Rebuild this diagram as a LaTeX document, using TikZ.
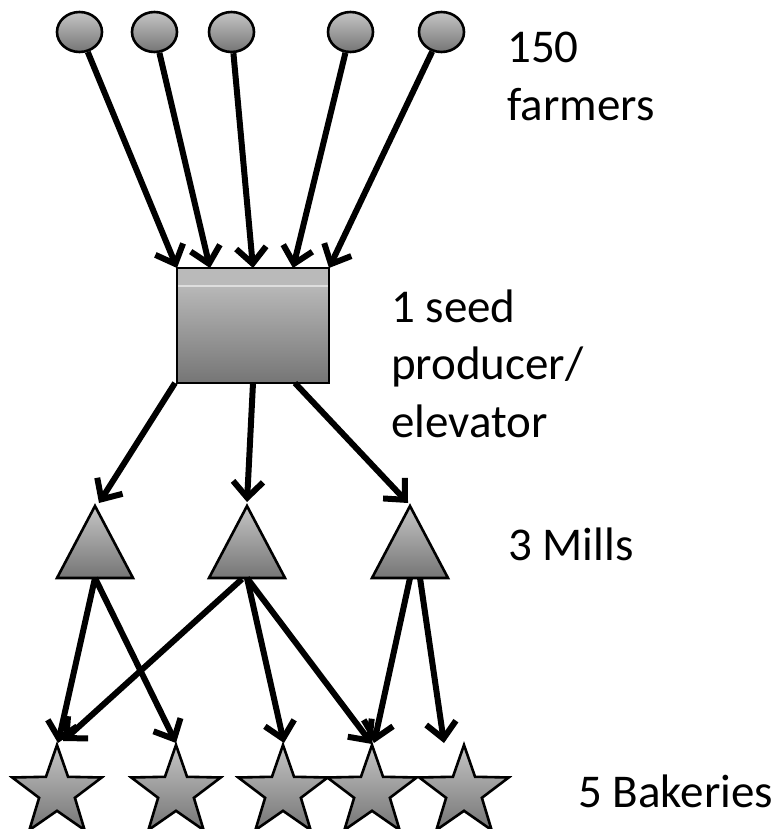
\documentclass[tikz,border=0pt]{standalone}
\usepackage{fontspec}
\setmainfont{Carlito}
\usetikzlibrary{shapes.geometric,arrows.meta,calc}
\definecolor{shtop}{gray}{0.77}
\definecolor{shbot}{gray}{0.46}
\definecolor{bandc}{gray}{0.73}
\definecolor{seamc}{gray}{0.87}
\tikzset{
 shapeface/.style={draw=black, line width=2.6bp, line join=miter, top color=shtop, bottom color=shbot},
 farmer/.style={shapeface, ellipse, minimum width=45bp, minimum height=40bp, inner sep=0pt},
 elevbox/.style={shapeface, rectangle, minimum width=152bp, minimum height=115bp, inner sep=0pt, outer sep=0pt,
   path picture={
     \fill[bandc] (path picture bounding box.north west) rectangle ([yshift=-18bp]path picture bounding box.north east);
     \draw[seamc, line width=1.2bp] ([yshift=-18bp]path picture bounding box.north west) -- ([yshift=-18bp]path picture bounding box.north east);
   }},
 bakery/.style={shapeface, star, star points=5, star point ratio=2.5, minimum size=94bp, inner sep=0pt, outer sep=0pt},
 flow/.style={line width=6bp, -{Straight Barb[length=16bp,width=30bp]}},
 lbl/.style={anchor=base west, inner sep=0pt, align=left, font=\fontsize{47bp}{57.5bp}\selectfont},
}
\begin{document}
\begin{tikzpicture}[x=1bp,y=-1bp]
\useasboundingbox (0,0) rectangle (782,829);
% farmers
\node[farmer] (f1) at (79.5,32) {};
\node[farmer] (f2) at (154.5,32) {};
\node[farmer] (f3) at (231.5,32) {};
\node[farmer] (f4) at (350.5,32) {};
\node[farmer] (f5) at (441.5,32) {};
% elevator
\node[elevbox] (elev) at (253,325.5) {};
% mills
\path[shapeface] (95,506) -- (133,578) -- (57,578) -- cycle;
\path[shapeface] (247,506) -- (285,578) -- (209,578) -- cycle;
\path[shapeface] (410,506) -- (448,578) -- (372,578) -- cycle;
\coordinate (m1top) at (95,506);
\coordinate (m2top) at (247,506);
\coordinate (m3top) at (410,506);
\coordinate (m1base) at (95,578);
\coordinate (m2base) at (247,578);
\coordinate (m3base) at (410,578);
% bakeries
\node[bakery] (b1) at (57,792) {};
\node[bakery] (b2) at (176,792) {};
\node[bakery] (b3) at (283,792) {};
\node[bakery] (b4) at (372,792) {};
\node[bakery] (b5) at (464,792) {};
\coordinate (b5miss) at (444,743);
% labels (base anchor = baseline of the last line)
\node[lbl] (farmlbl) at (507,120) {150\\farmers};
\node[lbl] (elevlbl) at (391,437) {1 seed\\producer/\\elevator};
\node[lbl] (milllbl) at (508,560) {3 Mills};
\node[lbl] (baklbl) at (578,807) {5 Bakeries};
% farmers -> elevator
\draw[flow] (f1) -- (elev.north west);
\draw[flow] (f2) -- ($(elev.north west)!0.217!(elev.north east)$);
\draw[flow] (f3) -- (elev.north);
\draw[flow] (f4) -- ($(elev.north west)!0.763!(elev.north east)$);
\draw[flow] (f5) -- (elev.north east);
% elevator -> mills
\draw[flow] ([xshift=-2bp]elev.south west) -- ([shift={(4,-3)}]m1top);
\draw[flow] (elev.south) -- ([shift={(0,-4)}]m2top);
\draw[flow] ($(elev.south west)!0.776!(elev.south east)$) -- ([shift={(-2,-3)}]m3top);
% mills -> bakeries
\draw[flow] (m1base) -- ([shift={(1,-2)}]b1.north);
\draw[flow] (m1base) -- ([shift={(0,-2)}]b2.north);
\draw[flow] ([shift={(-5,1)}]m2base) -- ([shift={(6,-4)}]b1.north);
\draw[flow] (m2base) -- ([shift={(1,-2)}]b3.north);
\draw[flow] (m2base) -- ([shift={(0,-1)}]b4.north);
\draw[flow] (m3base) -- ([shift={(2,-2)}]b4.north);
\draw[flow] ([xshift=10bp]m3base) -- (b5miss);
\end{tikzpicture}
\end{document}
